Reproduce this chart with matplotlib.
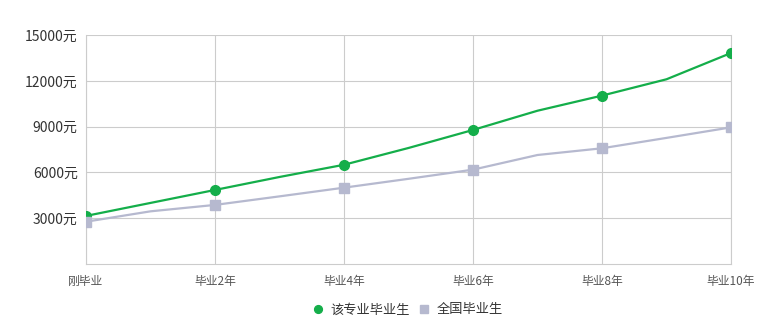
import matplotlib
matplotlib.use('Agg')
import matplotlib.pyplot as plt

plt.rcParams['font.family'] = ['Noto Sans CJK SC', 'DejaVu Sans']

years = ['刚毕业', '毕业1年', '毕业2年', '毕业3年', '毕业4年', '毕业5年',
         '毕业6年', '毕业7年', '毕业8年', '毕业9年', '毕业10年']
major = [3150, 4000, 4850, 5700, 6500, 7600, 8780, 10040, 11030, 12100, 13820]
nation = [2770, 3450, 3870, 4430, 5000, 5580, 6180, 7140, 7580, 8260, 8950]
yticks = [3000, 6000, 9000, 12000, 15000]

green = '#14ae4a'
gray = '#b6b9cf'

fig = plt.figure(figsize=(7.72, 3.30), dpi=100)
ax = fig.add_axes([86 / 772, 1 - 264 / 330, 645 / 772, 229 / 330])

x = list(range(len(years)))
ax.plot(x, major, color=green, lw=1.6, zorder=3)
ax.plot(x[::2], major[::2], 'o', color=green, ms=7, zorder=4, label='该专业毕业生')
ax.plot(x, nation, color=gray, lw=1.6, zorder=3)
ax.plot(x[::2], nation[::2], 's', color=gray, ms=6.5, zorder=4, label='全国毕业生')

ax.set_xlim(0, 10)
ax.set_ylim(0, 15000)
ax.set_xticks(x[::2])
ax.set_xticklabels(years[::2], fontsize=8.5, color='#555555')
ax.set_yticks(yticks)
ax.set_yticklabels(['%d元' % v for v in yticks], fontsize=10, color='#333333')
ax.tick_params(length=0, pad=6)
ax.tick_params(axis='x', pad=8)
ax.grid(True, color='#cccccc', lw=0.8)
for s in ax.spines.values():
    s.set_color('#cccccc')
    s.set_linewidth(0.8)
ax.spines['top'].set_visible(False)

ax.legend(loc='upper center', bbox_to_anchor=(0.5, -0.12), ncol=2, frameon=False,
          fontsize=9.5, handlelength=0.6, handletextpad=0.6, columnspacing=0.8,
          markerscale=0.8, labelcolor='#333333')

fig.savefig('out.png', dpi=100)
